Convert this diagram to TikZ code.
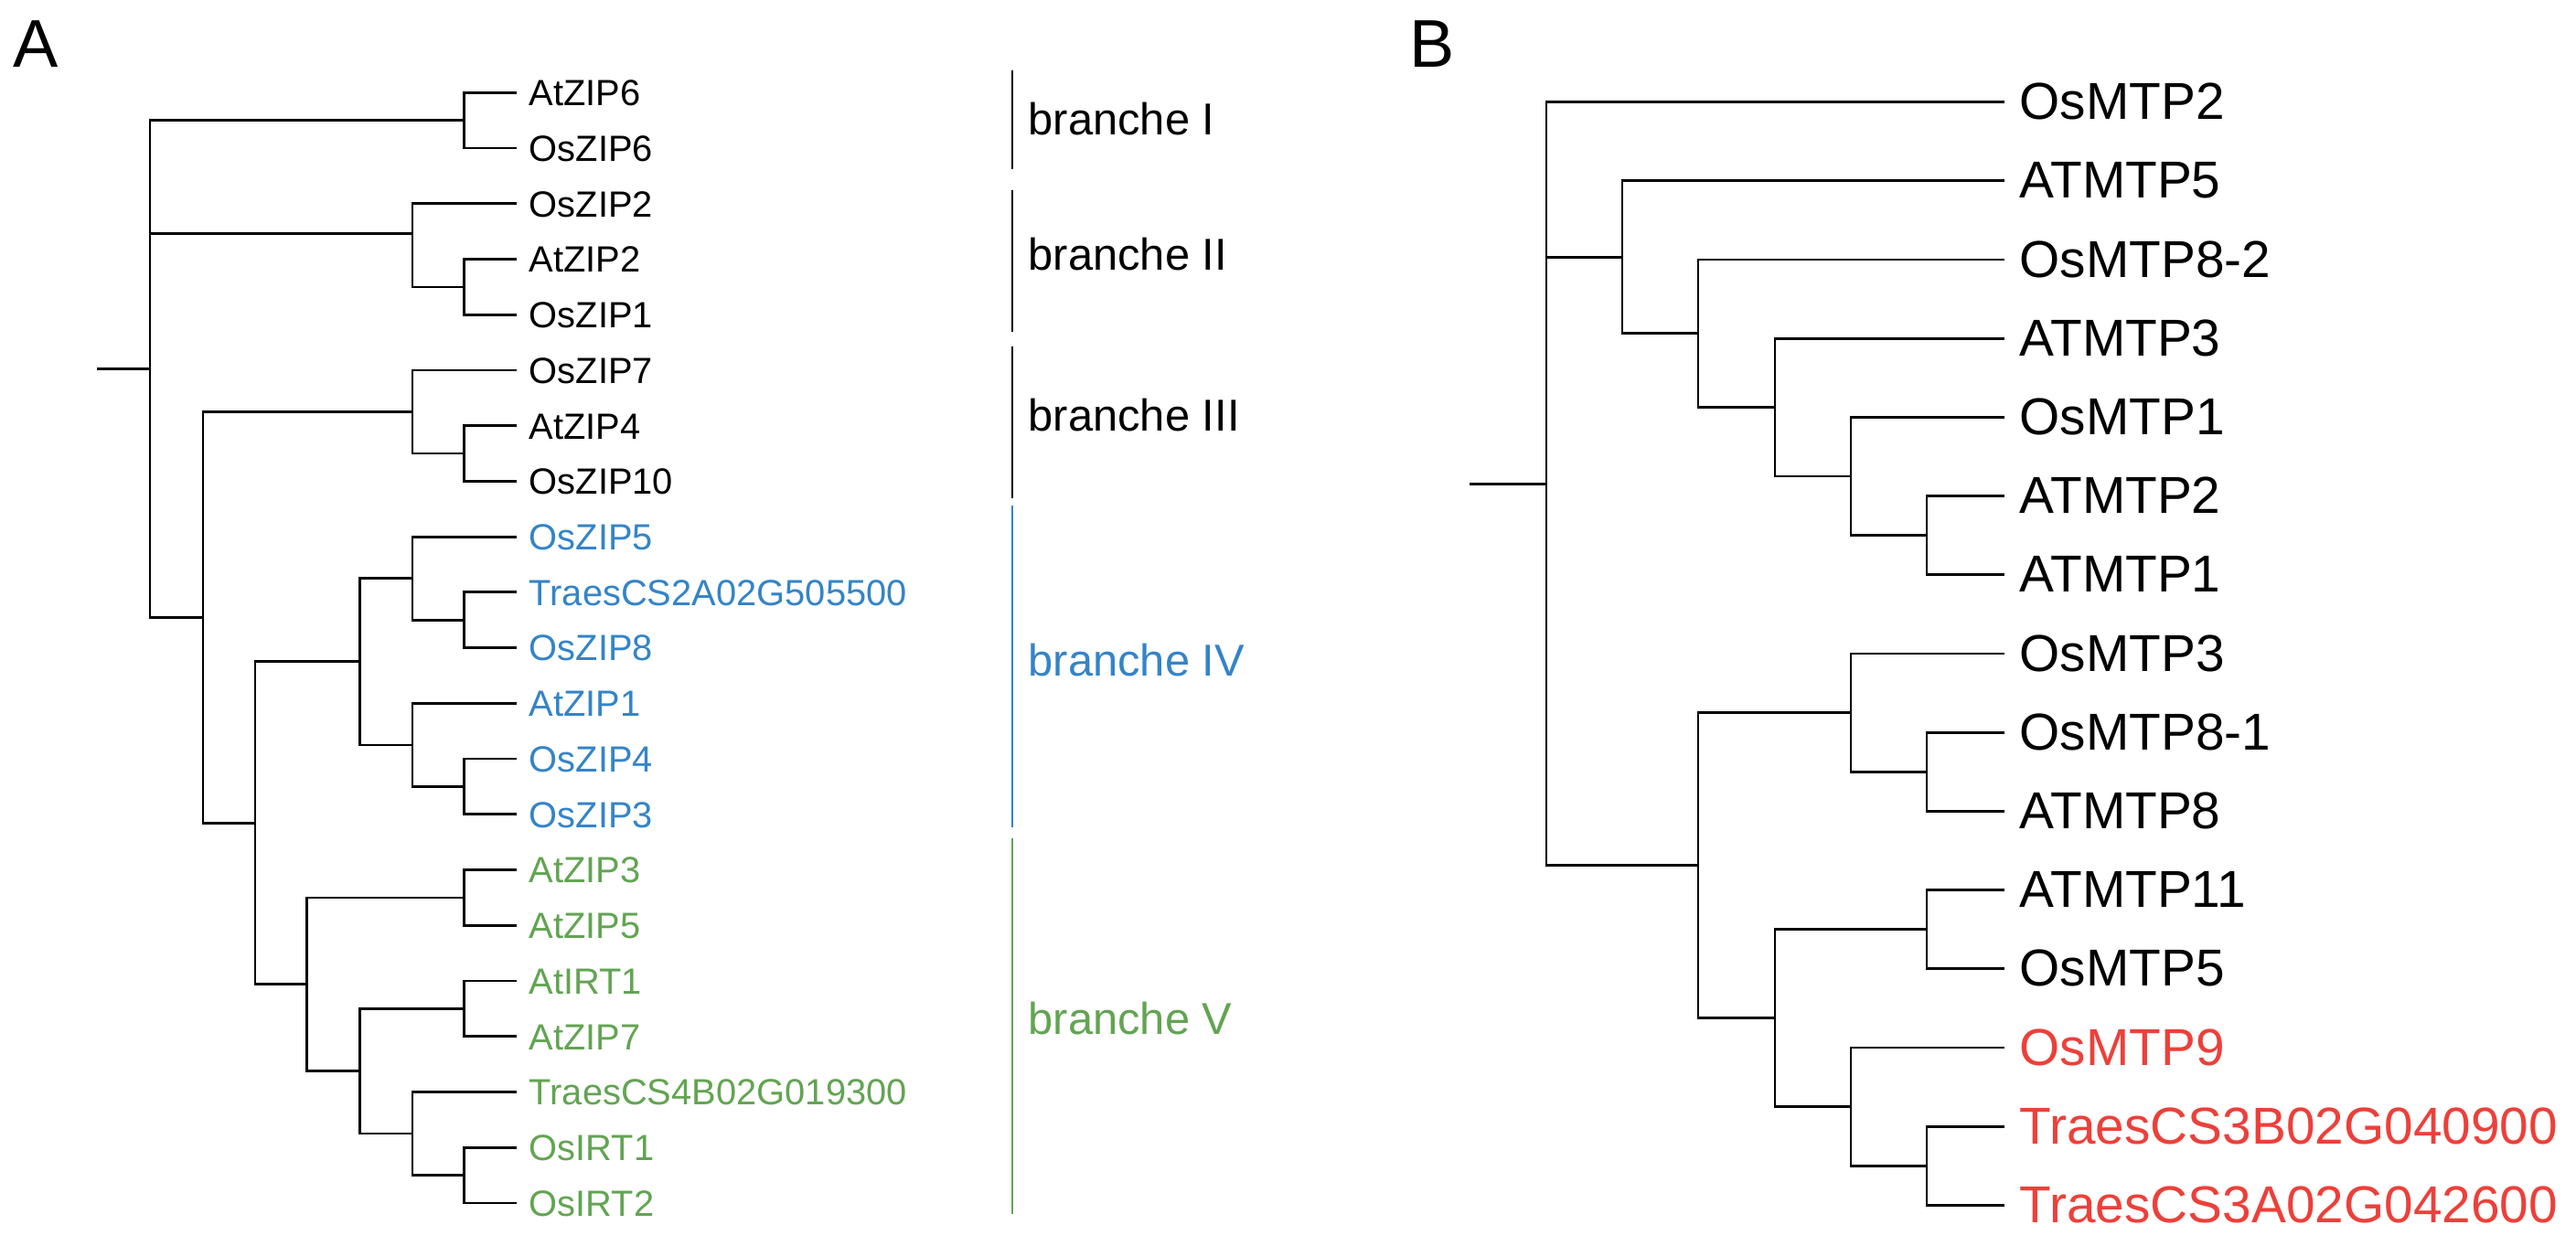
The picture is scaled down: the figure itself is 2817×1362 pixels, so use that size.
\documentclass[tikz,border=0pt]{standalone}
\usepackage{fontspec}
\setmainfont{Liberation Sans}
\definecolor{cladeblue}{RGB}{52,132,200}
\definecolor{cladegreen}{RGB}{98,164,82}
\definecolor{cladered}{RGB}{236,64,58}
\tikzset{
  tree/.style={draw=black, line width=0.8pt, line join=miter},
  brk/.style={line width=0.65pt},
  labA/.style={inner sep=0pt, anchor=base west, font=\fontsize{11.34pt}{13.6pt}\selectfont},
  labB/.style={inner sep=0pt, anchor=base west, font=\fontsize{16.15pt}{19.4pt}\selectfont},
  brlab/.style={inner sep=0pt, anchor=base west, font=\fontsize{13.9pt}{16.7pt}\selectfont},
  panel/.style={inner sep=0pt, anchor=base west, font=\fontsize{21pt}{25pt}\selectfont}
}
\begin{document}
\begin{tikzpicture}[x=0.01cm, y=-0.01cm]
\useasboundingbox (0,0) rectangle (2817,1362);

% ---------------- Panel A ----------------
\node[panel] (PA) at (14,73.7) {A};

\foreach \i/\n/\c in {0/AtZIP6/black,1/OsZIP6/black,2/OsZIP2/black,3/AtZIP2/black,
  4/OsZIP1/black,5/OsZIP7/black,6/AtZIP4/black,7/OsZIP10/black,
  8/OsZIP5/cladeblue,9/TraesCS2A02G505500/cladeblue,10/OsZIP8/cladeblue,
  11/AtZIP1/cladeblue,12/OsZIP4/cladeblue,13/OsZIP3/cladeblue,
  14/AtZIP3/cladegreen,15/AtZIP5/cladegreen,16/AtIRT1/cladegreen,
  17/AtZIP7/cladegreen,18/TraesCS4B02G019300/cladegreen,
  19/OsIRT1/cladegreen,20/OsIRT2/cladegreen}{
  \pgfmathsetmacro\yy{101.3+60.73*\i}
  \coordinate (a\i) at (564.7,\yy);
  \node[labA, text=\c] (la\i) at (578,\yy+14.3) {\n};
}

\coordinate (rootA) at (164,403.5);
\coordinate (stubA) at (106,403.5);
\coordinate (nI) at (507.6,131.7);
\coordinate (nII) at (451,255.4);
\coordinate (nIIa) at (507.6,313.9);
\coordinate (nLow) at (222,675.4);
\coordinate (nIII) at (451,450.5);
\coordinate (nIIIa) at (507.6,496.05);
\coordinate (nIVV) at (279,900.3);
\coordinate (nIV) at (393.75,723.8);
\coordinate (nIVa) at (451,632.7);
\coordinate (nIVa1) at (507.6,678.25);
\coordinate (nIVb) at (451,814.9);
\coordinate (nIVb1) at (507.6,860.45);
\coordinate (nV) at (335.7,1076.8);
\coordinate (nVa) at (507.6,981.9);
\coordinate (nVb) at (393.75,1171.7);
\coordinate (nVb1) at (507.6,1103.35);
\coordinate (nVc) at (451,1240);
\coordinate (nVc1) at (507.6,1285.55);

\draw[tree] (stubA) -- (rootA);
\draw[tree] (rootA) |- (nI);
\draw[tree] (rootA) |- (nII);
\draw[tree] (rootA) |- (nLow);
\draw[tree] (nI) |- (a0);
\draw[tree] (nI) |- (a1);
\draw[tree] (nII) |- (a2);
\draw[tree] (nII) |- (nIIa);
\draw[tree] (nIIa) |- (a3);
\draw[tree] (nIIa) |- (a4);
\draw[tree] (nLow) |- (nIII);
\draw[tree] (nLow) |- (nIVV);
\draw[tree] (nIII) |- (a5);
\draw[tree] (nIII) |- (nIIIa);
\draw[tree] (nIIIa) |- (a6);
\draw[tree] (nIIIa) |- (a7);
\draw[tree] (nIVV) |- (nIV);
\draw[tree] (nIVV) |- (nV);
\draw[tree] (nIV) |- (nIVa);
\draw[tree] (nIV) |- (nIVb);
\draw[tree] (nIVa) |- (a8);
\draw[tree] (nIVa) |- (nIVa1);
\draw[tree] (nIVa1) |- (a9);
\draw[tree] (nIVa1) |- (a10);
\draw[tree] (nIVb) |- (a11);
\draw[tree] (nIVb) |- (nIVb1);
\draw[tree] (nIVb1) |- (a12);
\draw[tree] (nIVb1) |- (a13);
\draw[tree] (nV) |- (nVa);
\draw[tree] (nV) |- (nVb);
\draw[tree] (nVa) |- (a14);
\draw[tree] (nVa) |- (a15);
\draw[tree] (nVb) |- (nVb1);
\draw[tree] (nVb) |- (nVc);
\draw[tree] (nVb1) |- (a16);
\draw[tree] (nVb1) |- (a17);
\draw[tree] (nVc) |- (a18);
\draw[tree] (nVc) |- (nVc1);
\draw[tree] (nVc1) |- (a19);
\draw[tree] (nVc1) |- (a20);

% branch brackets
\coordinate (bIt) at (1107,76.7);   \coordinate (bIb) at (1107,185);
\coordinate (bIIt) at (1107,207.6); \coordinate (bIIb) at (1107,362.5);
\coordinate (bIIIt) at (1107,378.6);\coordinate (bIIIb) at (1107,544.6);
\coordinate (bIVt) at (1107,552.7); \coordinate (bIVb) at (1107,904.6);
\coordinate (bVt) at (1107,916.7);  \coordinate (bVb) at (1107,1328.3);
\draw[brk] (bIt) -- (bIb);
\draw[brk] (bIIt) -- (bIIb);
\draw[brk] (bIIIt) -- (bIIIb);
\draw[brk, cladeblue] (bIVt) -- (bIVb);
\draw[brk, cladegreen] (bVt) -- (bVb);
\node[brlab] (brI) at (1124,147.3) {branche I};
\node[brlab] (brII) at (1124,295.5) {branche II};
\node[brlab] (brIII) at (1124,471) {branche III};
\node[brlab, text=cladeblue] (brIV) at (1124,739.5) {branche IV};
\node[brlab, text=cladegreen] (brV) at (1124,1131.9) {branche V};

% ---------------- Panel B ----------------
\node[panel] (PB) at (1541,73.7) {B};

\foreach \i/\n/\c in {0/OsMTP2/black,1/ATMTP5/black,2/OsMTP8-2/black,3/ATMTP3/black,
  4/OsMTP1/black,5/ATMTP2/black,6/ATMTP1/black,7/OsMTP3/black,8/OsMTP8-1/black,
  9/ATMTP8/black,10/ATMTP11/black,11/OsMTP5/black,12/OsMTP9/cladered,
  13/TraesCS3B02G040900/cladered,14/TraesCS3A02G042600/cladered}{
  \pgfmathsetmacro\yy{111.6+86.2*\i}
  \coordinate (b\i) at (2192,\yy);
  \node[labB, text=\c] (lb\i) at (2208,\yy+19) {\n};
}

\coordinate (rootB) at (1691,529.15);
\coordinate (stubB) at (1607,529.15);
\coordinate (bn1) at (1774,281.3);
\coordinate (bn2) at (1857,364.8);
\coordinate (bn3) at (1941,445.6);
\coordinate (bn4) at (2024,521.05);
\coordinate (bn56) at (2107,585.7);
\coordinate (bn7b) at (1857,946.7);
\coordinate (bn7) at (2024,779.65);
\coordinate (bn89) at (2107,844.3);
\coordinate (bn10) at (1941,1113.7);
\coordinate (bn1011) at (2107,1016.7);
\coordinate (bn12) at (2024,1210.65);
\coordinate (bn1314) at (2107,1275.3);

\draw[tree] (stubB) -- (rootB);
\draw[tree] (rootB) |- (b0);
\draw[tree] (rootB) |- (bn1);
\draw[tree] (rootB) |- (bn7b);
\draw[tree] (bn1) |- (b1);
\draw[tree] (bn1) |- (bn2);
\draw[tree] (bn2) |- (b2);
\draw[tree] (bn2) |- (bn3);
\draw[tree] (bn3) |- (b3);
\draw[tree] (bn3) |- (bn4);
\draw[tree] (bn4) |- (b4);
\draw[tree] (bn4) |- (bn56);
\draw[tree] (bn56) |- (b5);
\draw[tree] (bn56) |- (b6);
\draw[tree] (bn7b) |- (bn7);
\draw[tree] (bn7b) |- (bn10);
\draw[tree] (bn7) |- (b7);
\draw[tree] (bn7) |- (bn89);
\draw[tree] (bn89) |- (b8);
\draw[tree] (bn89) |- (b9);
\draw[tree] (bn10) |- (bn1011);
\draw[tree] (bn10) |- (bn12);
\draw[tree] (bn1011) |- (b10);
\draw[tree] (bn1011) |- (b11);
\draw[tree] (bn12) |- (b12);
\draw[tree] (bn12) |- (bn1314);
\draw[tree] (bn1314) |- (b13);
\draw[tree] (bn1314) |- (b14);
\end{tikzpicture}
\end{document}
